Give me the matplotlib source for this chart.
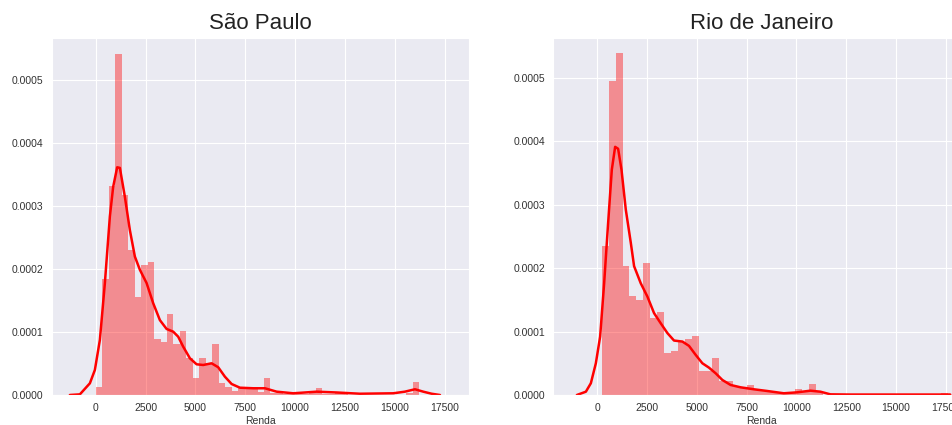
import numpy as np
import matplotlib
matplotlib.use("Agg")
import matplotlib.pyplot as plt
import seaborn as sns

sns.set_style("darkgrid")
plt.rcParams['font.family'] = ['Liberation Sans', 'DejaVu Sans']

# histogram densities (50 bins each) for the income column "Renda"
sp_bin_range = (0, 16230)
sp_density = [
    0.0000132, 0.000184, 0.000332, 0.000542, 0.000318, 0.000230, 0.000156, 0.000206,
    0.000211, 0.0000891, 0.0000848, 0.000129, 0.0000811, 0.000101, 0.0000584, 0.0000266,
    0.0000594, 0.0000504, 0.0000806, 0.0000196, 0.0000132, 0.0000064, 0.0000107, 0.0000107,
    0.0000090, 0.0000040, 0.0000266, 0.0000030, 0.0000030, 0.0000020, 0.0000020, 0.0000020,
    0.0000020, 0.0000030, 0.0000107, 0.0000020, 0.0000020, 0.0000053, 0.0000020, 0.0,
    0.0, 0.0, 0.0, 0.0, 0.0, 0.0, 0.0, 0.0, 0.0000030, 0.0000212,
]

rj_bin_range = (235, 17585)
rj_density = [
    0.000235, 0.000495, 0.000539, 0.000203, 0.000156, 0.000149, 0.000208, 0.000121,
    0.000130, 0.0000668, 0.0000695, 0.0000842, 0.0000880, 0.0000937, 0.0000384, 0.0000384,
    0.0000589, 0.0000221, 0.0000221, 0.0000126, 0.0000116, 0.0000158, 0.0000079, 0.0000079,
    0.0000050, 0.0000037, 0.0000037, 0.0000037, 0.0000090, 0.0000040, 0.0000172, 0.0000040,
    0.0, 0.0, 0.0, 0.0, 0.0, 0.0, 0.0, 0.0,
    0.0, 0.0, 0.0, 0.0, 0.0, 0.0, 0.0, 0.0, 0.0, 0.0000030,
]

# kde curves
sp_kde_x = [-1305, -803, -301, -50, 201, 452, 703, 869, 1070, 1205, 1456, 1707, 1958,
            2209, 2545, 2876, 3213, 3550, 3880, 4131, 4383, 4719, 5055, 5387, 5808,
            6140, 6476, 6812, 7229, 7897, 8484, 9071, 9905, 11080, 12085, 13250,
            14925, 15510, 16014, 16430, 16850, 17270]
sp_kde_y = [0.0, 0.0000010, 0.0000186, 0.0000398, 0.0000875, 0.000178, 0.000284, 0.000331,
            0.000362, 0.000361, 0.000315, 0.000262, 0.000220, 0.000199, 0.000178, 0.000146,
            0.000119, 0.000105, 0.0001007, 0.0000927, 0.0000768, 0.0000584, 0.0000488,
            0.0000477, 0.0000504, 0.0000441, 0.0000291, 0.0000175, 0.0000116, 0.0000107,
            0.0000107, 0.0000053, 0.0000027, 0.0000053, 0.0000040, 0.0000020, 0.0000027,
            0.0000053, 0.0000091, 0.0000053, 0.0000020, 0.0]

rj_kde_x = [-1017, -566, -316, -65, 150, 351, 551, 736, 903, 1052, 1222, 1438, 1688,
            1854, 2189, 2523, 2856, 3191, 3527, 3858, 4279, 4609, 4945, 5281, 5611,
            5947, 6283, 6698, 7199, 7866, 8537, 9369, 10040, 10706, 11207, 11708,
            12710, 17720]
rj_kde_y = [0.0, 0.0000052, 0.0000185, 0.000050, 0.000092, 0.000176, 0.000271, 0.000355,
            0.000391, 0.000388, 0.000355, 0.000292, 0.000240, 0.000203, 0.000176, 0.000155,
            0.000129, 0.000113, 0.0000975, 0.0000858, 0.0000842, 0.0000774, 0.0000632,
            0.000050, 0.0000431, 0.0000342, 0.0000237, 0.0000158, 0.0000121, 0.0000090,
            0.0000063, 0.0000027, 0.0000042, 0.0000068, 0.0000052, 0.0000010, 0.0000007,
            0.0000007]

x_ticks = [0, 2500, 5000, 7500, 10000, 12500, 15000, 17500]
y_ticks = [0.0, 0.0001, 0.0002, 0.0003, 0.0004, 0.0005]

fig = plt.figure(figsize=(9.53, 4.25), dpi=100)
ax1 = fig.add_axes([0.0546, 0.0706, 0.4376, 0.8407])
ax2 = fig.add_axes([0.5806, 0.0706, 0.4376, 0.8407])


def draw(ax, bin_range, density, kde_x, kde_y, title, ytop):
    edges = np.linspace(bin_range[0], bin_range[1], len(density) + 1)
    ax.bar(edges[:-1], density, width=np.diff(edges), align='edge',
           color='red', alpha=0.4, linewidth=0)
    ax.plot(kde_x, kde_y, color='red', lw=1.8)
    ax.set_xlim(-2200, 18730)
    ax.set_ylim(0, ytop)
    ax.set_xticks(x_ticks)
    ax.set_yticks(y_ticks)
    ax.set_yticklabels(['%.4f' % v for v in y_ticks])
    ax.tick_params(labelsize=7.5, colors='#333333', pad=6, length=0)
    ax.set_xlabel('Renda', fontsize=7.5, color='#333333', labelpad=2)
    ax.set_title(title, fontsize=16, color='#222222')


draw(ax1, sp_bin_range, sp_density, sp_kde_x, sp_kde_y, 'São Paulo', 0.000568)
draw(ax2, rj_bin_range, rj_density, rj_kde_x, rj_kde_y, 'Rio de Janeiro', 0.000563)

fig.savefig('out.png', dpi=100)
